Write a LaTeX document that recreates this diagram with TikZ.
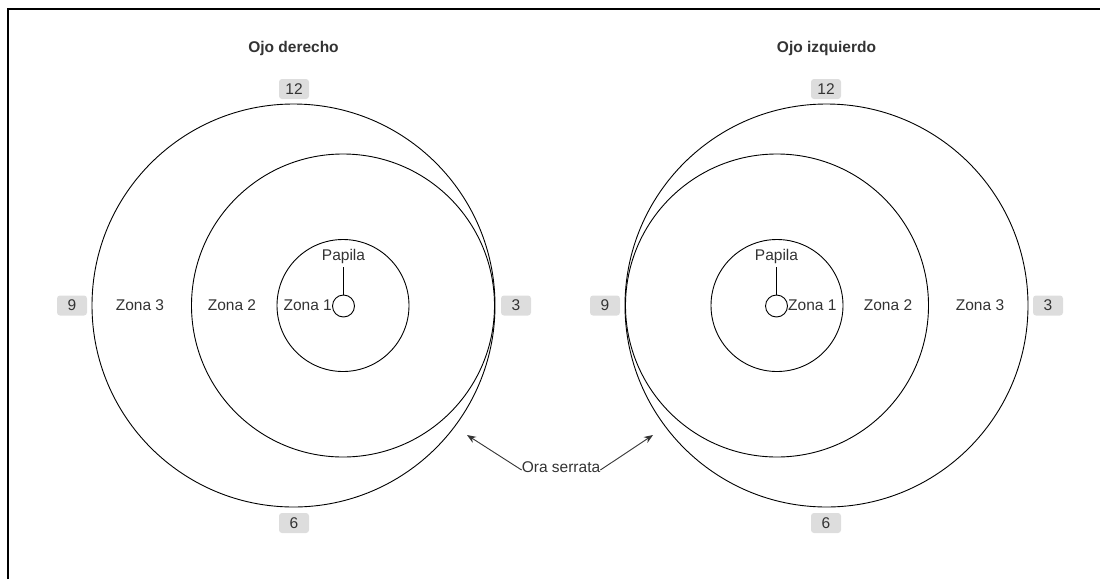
\documentclass[tikz,border=0pt]{standalone}
\usepackage{fontspec}
\setmainfont{Liberation Sans}
\usetikzlibrary{arrows.meta}
\definecolor{txt}{HTML}{333333}
\definecolor{lbl}{HTML}{DDDDDD}
\tikzset{
  ring/.style={circle, draw=black, line width=0.9pt, inner sep=0pt, minimum size=#1},
  clock/.style={fill=lbl, rounded corners=3pt, minimum width=30pt, minimum height=20pt, inner sep=0pt, text=txt, font=\fontsize{15.5}{18}\selectfont},
  lab/.style={text=txt, inner sep=0pt, font=\fontsize{15.5}{18}\selectfont},
  title/.style={text=txt, inner sep=0pt, font=\fontsize{15.5}{18}\selectfont\bfseries},
  arr/.style={-{Stealth[length=9pt,width=7pt]}, line width=0.9pt, draw=txt}
}
\begin{document}
\begin{tikzpicture}[x=1pt,y=-1pt]
\useasboundingbox (0,0) rectangle (1100,579);
% frame
\draw[line width=2pt] (7.5,579) -- (7.5,9.3) -- (1100,9.3);

% ---------- left eye (Ojo derecho) ----------
\node[title] (tL) at (293.5,48) {Ojo derecho};
\node[ring=403pt] (z3L) at (293.5,305.5) {};
\node[ring=303pt] (z2L) at (343,305.5) {};
\node[ring=132pt] (z1L) at (343,305.5) {};
\node[ring=22pt] (pcL) at (343.5,306) {};
\node[lab] (ptL) at (343.5,256) {Papila};
\draw[line width=0.9pt] (ptL.south) ++(0,4) coordinate (plL) -- (pcL.north);
\node[lab] (zona3L) at (140,305) {Zona 3};
\node[lab] (zona2L) at (232,305) {Zona 2};
\node[lab, anchor=east] (zona1L) at (332,305) {Zona 1};
\node[clock] (c12L) at (294,89) {12};
\node[clock] (c9L) at (72,305.5) {9};
\node[clock] (c3L) at (516,305.5) {3};
\node[clock] (c6L) at (294,523) {6};

% ---------- right eye (Ojo izquierdo) ----------
\node[title] (tR) at (826.5,48) {Ojo izquierdo};
\node[ring=403pt] (z3R) at (826.5,305.5) {};
\node[ring=303pt] (z2R) at (777,305.5) {};
\node[ring=132pt] (z1R) at (777,305.5) {};
\node[ring=22pt] (pcR) at (776.5,306) {};
\node[lab] (ptR) at (776.5,256) {Papila};
\draw[line width=0.9pt] (ptR.south) ++(0,4) coordinate (plR) -- (pcR.north);
\node[lab, anchor=west] (zona1R) at (788,305) {Zona 1};
\node[lab] (zona2R) at (888,305) {Zona 2};
\node[lab] (zona3R) at (980,305) {Zona 3};
\node[clock] (c12R) at (826,89) {12};
\node[clock] (c9R) at (605,305.5) {9};
\node[clock] (c3R) at (1048,305.5) {3};
\node[clock] (c6R) at (826,523) {6};

% ---------- Ora serrata ----------
\node[lab] (ora) at (561,467) {Ora serrata};
\coordinate (tipL) at (467,435);
\coordinate (tipR) at (653,435);
\draw[arr] ([yshift=-3pt]ora.west) -- (tipL);
\draw[arr] ([yshift=-3pt]ora.east) -- (tipR);
\end{tikzpicture}
\end{document}
